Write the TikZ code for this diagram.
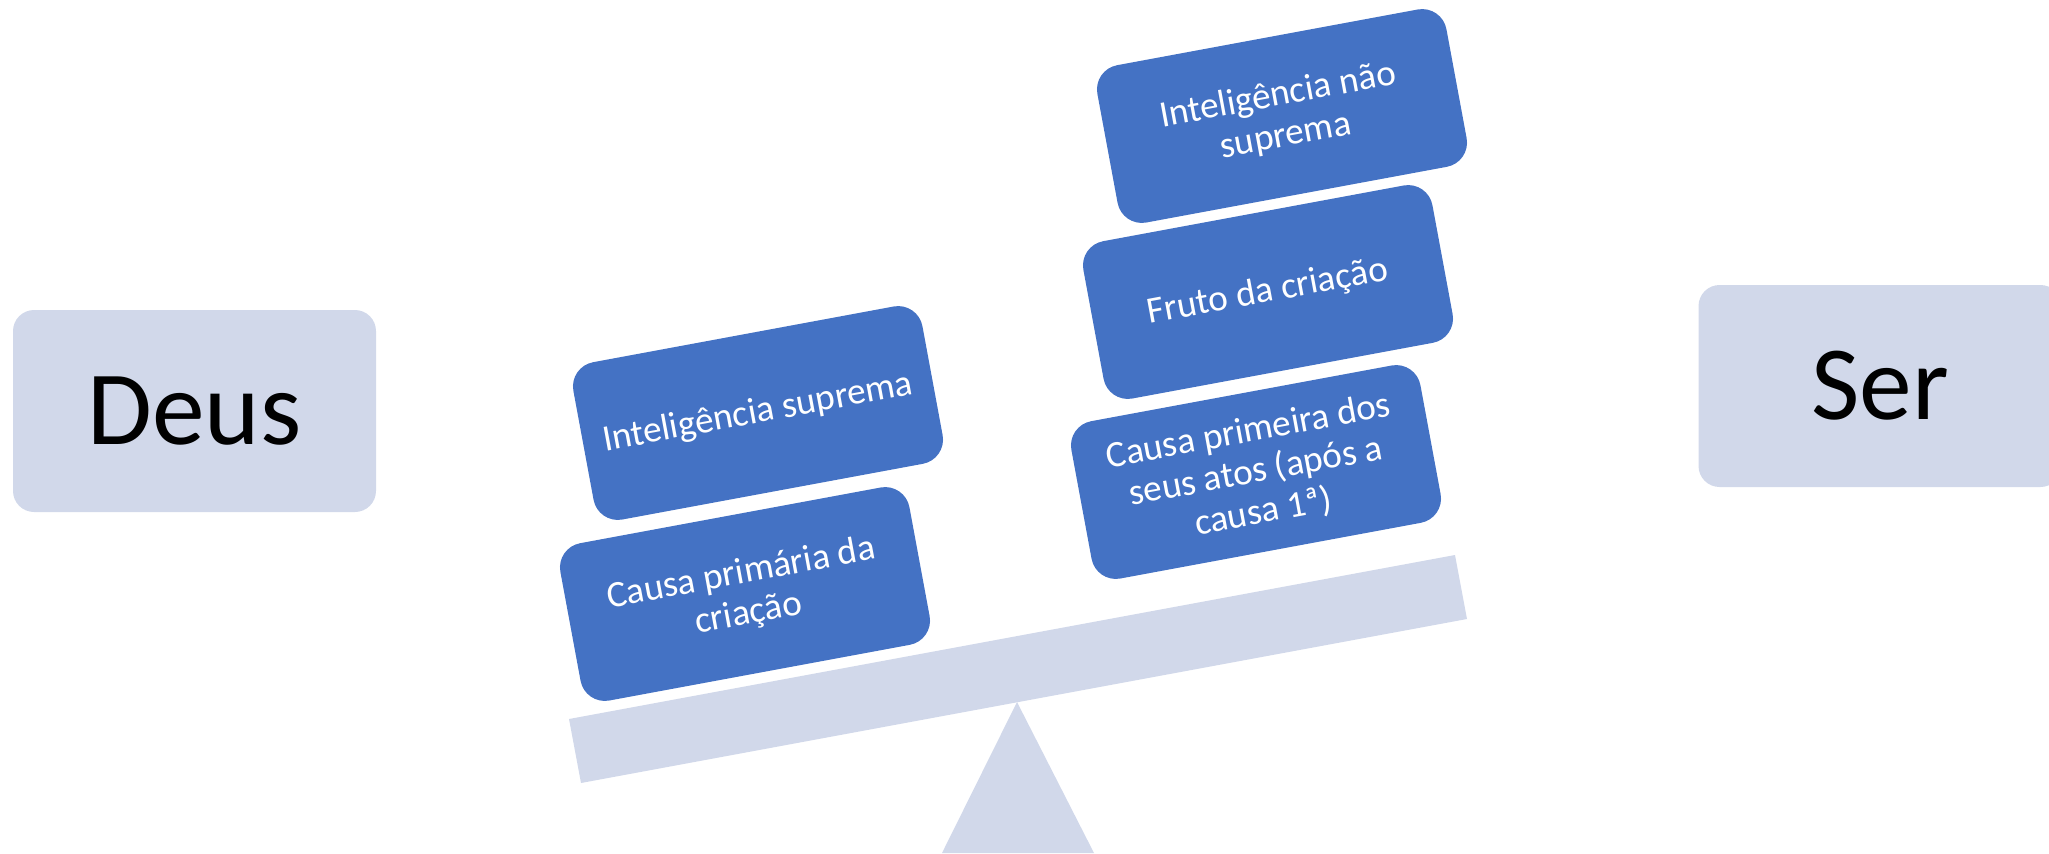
\documentclass[tikz,border=0pt]{standalone}
\usepackage{fontspec}
\setmainfont{Carlito}
\definecolor{pale}{HTML}{D1D8EA}
\definecolor{accent}{HTML}{4472C4}

\begin{document}
\begin{tikzpicture}[
    side/.style={rectangle, rounded corners=6pt, fill=pale, minimum width=3.63cm,
                 minimum height=2.02cm, font=\fontsize{30}{36}\selectfont},
    weight/.style={rectangle, rounded corners=7pt, fill=accent, text=white, rotate=10.5,
                   minimum width=3.55cm, minimum height=1.6cm, align=center,
                   font=\fontsize{10.6}{11.7}\selectfont},
    beam/.style={fill=pale}
  ]
  \clip (0,0) rectangle (20.49,8.53);

  % balance
  \fill[beam] (9.42,0) -- (10.17,1.51) -- (10.94,0) -- cycle;
  \fill[beam] (5.69,1.34) -- (14.55,2.98) -- (14.67,2.34) -- (5.81,0.70) -- cycle;

  \node[side] (deus) at (1.945,4.42) {Deus};
  \node[side] (ser) at (18.80,4.67) {Ser};

  % left pan
  \node[weight] (suprema) at (7.58,4.40) {Inteligência suprema};
  \node[weight] (primaria) at (7.45,2.59) {Causa primária da\\criação};

  % right pan
  \node[weight] (naosuprema) at (12.82,7.37) {Inteligência não\\suprema};
  \node[weight] (fruto) at (12.68,5.61) {Fruto da criação};
  \node[weight] (primeira) at (12.56,3.81) {Causa primeira dos\\seus atos (após a\\causa 1ª)};
\end{tikzpicture}
\end{document}
